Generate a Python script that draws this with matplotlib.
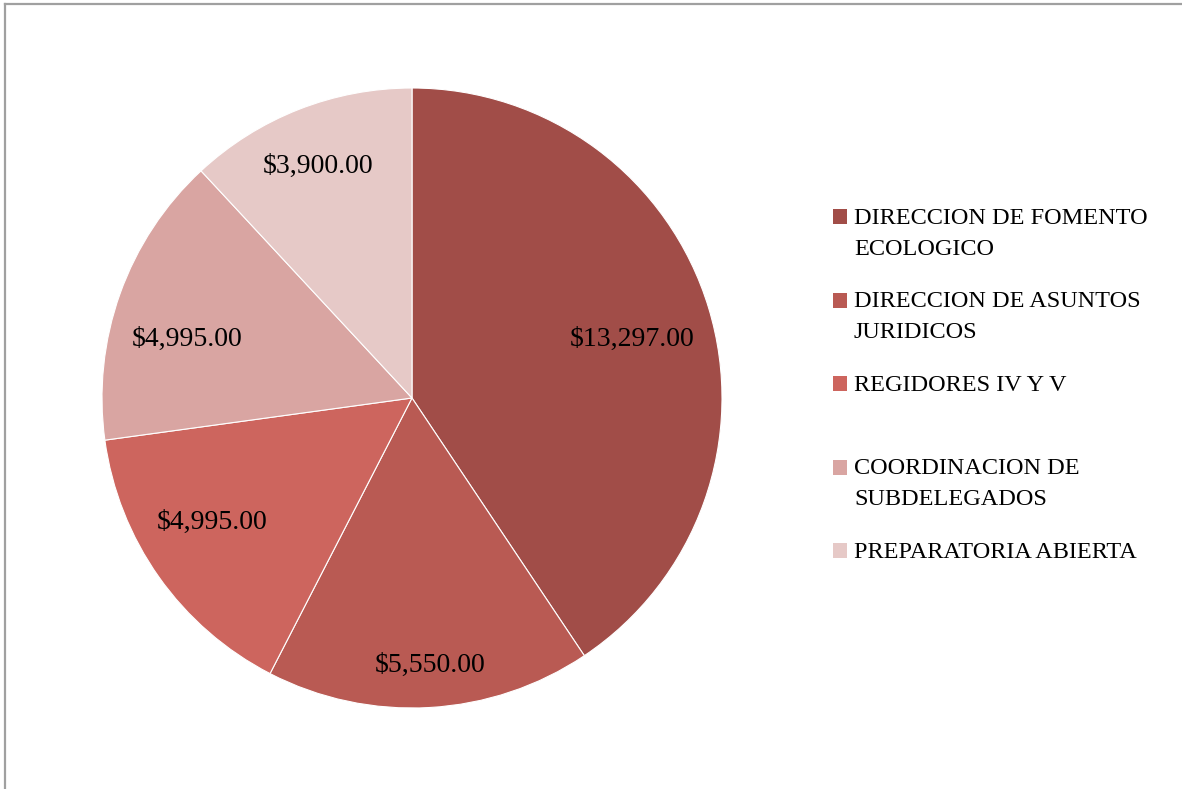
import matplotlib.pyplot as plt
import numpy as np
from matplotlib.patches import Rectangle
from matplotlib.lines import Line2D

labels = ["DIRECCION DE FOMENTO\nECOLOGICO",
          "DIRECCION DE ASUNTOS\nJURIDICOS",
          "REGIDORES IV Y V",
          "COORDINACION DE\nSUBDELEGADOS",
          "PREPARATORIA ABIERTA"]
values = [13297, 5550, 4995, 4995, 3900]
colors = ["#A14D48", "#B95A53", "#CD655E", "#D9A5A2", "#E6C9C7"]
# value label placement: distance (fraction of radius) and nudge off the mid-angle (deg)
label_dist = [0.736, 0.858, 0.757, 0.750, 0.813]
label_nudge = [-1.5, 0.7, -3.7, 4.5, 0.5]

W, H = 1182, 789
fig = plt.figure(figsize=(W / 100, H / 100), dpi=100)
serif = "Liberation Serif"

# frame: only top and left edges show
fig.add_artist(Line2D([5 / W, 1], [1 - 4 / H, 1 - 4 / H], transform=fig.transFigure,
                      color="#A0A0A0", lw=1.6))
fig.add_artist(Line2D([5 / W, 5 / W], [0, 1 - 4 / H], transform=fig.transFigure,
                      color="#A0A0A0", lw=1.6))

cx, cy, r = 412, 398, 310
ax = fig.add_axes([(cx - r) / W, 1 - (cy + r) / H, 2 * r / W, 2 * r / H])
wedges, _ = ax.pie(values, colors=colors, startangle=90, counterclock=False,
                   wedgeprops=dict(edgecolor="white", linewidth=0.8))
ax.set_xlim(-1, 1)
ax.set_ylim(-1, 1)
ax.set_aspect("equal")
ax.axis("off")

for w, v, d, nud in zip(wedges, values, label_dist, label_nudge):
    mid = np.deg2rad((w.theta1 + w.theta2) / 2 + nud)
    ax.text(d * np.cos(mid), d * np.sin(mid) - 0.006, f"${v:,.2f}", ha="center", va="center",
            fontsize=20, family=serif, color="black")

# legend drawn by hand: each entry gets a two-line slot, text aligned to top
top0 = 209
step = 83.5
for i, (lab, col) in enumerate(zip(labels, colors)):
    top = top0 + i * step
    fig.add_artist(Rectangle((833 / W, 1 - (top + 15) / H), 14 / W, 15 / H,
                             transform=fig.transFigure, facecolor=col, edgecolor="none"))
    fig.text(854 / W, 1 - (top - 1) / H, lab, ha="left", va="top", fontsize=17.5,
             family=serif, linespacing=1.6)

fig.savefig("out.png", dpi=100)
